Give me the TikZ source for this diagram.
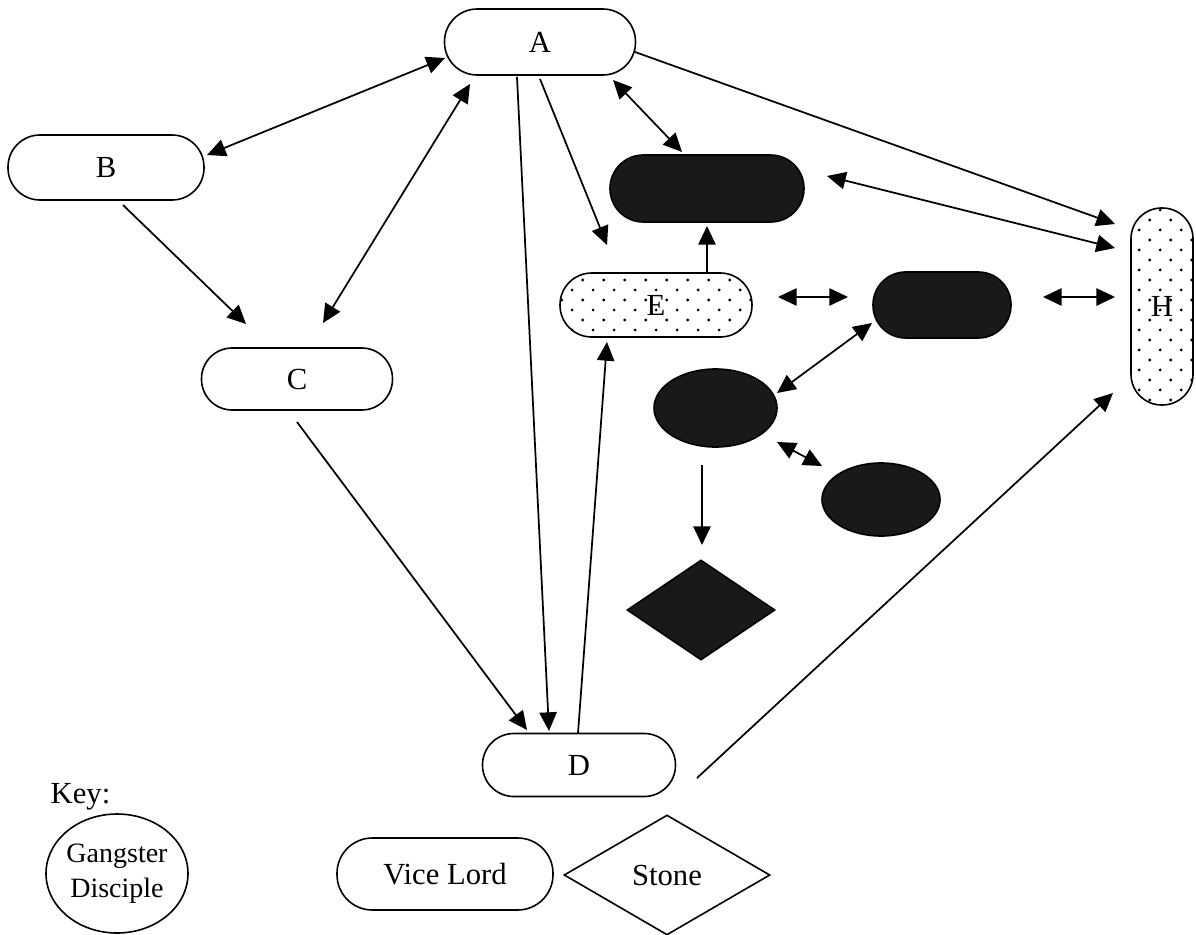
\documentclass[tikz,border=0pt]{standalone}
\usepackage{fontspec}
\setmainfont{Liberation Serif}
\usetikzlibrary{arrows.meta,shapes.geometric,patterns,calc}
\pgfdeclarepatternformonly{mydots}{\pgfpoint{-1pt}{-1pt}}{\pgfpoint{16.75pt}{16pt}}{\pgfpoint{15.75pt}{15pt}}{%
  \pgfpathcircle{\pgfpoint{3.9pt}{3.75pt}}{1.15pt}%
  \pgfpathcircle{\pgfpoint{11.8pt}{11.25pt}}{1.15pt}%
  \pgfusepath{fill}}
\tikzset{
  lbl/.style={font=\fontsize{23}{26}\selectfont},
  vl/.style={draw, line width=1.2pt, inner sep=0pt, lbl},
  dark/.style={fill=black!90, draw=black},
  dotted fill/.style={pattern=mydots},
  conn/.style={line width=1.3pt, -{Triangle[length=14pt,width=13pt]}},
  biconn/.style={line width=1.3pt, {Triangle[length=14pt,width=13pt]}-{Triangle[length=14pt,width=13pt]}},
}
\begin{document}
\begin{tikzpicture}[x=0.75pt,y=-0.75pt]
\useasboundingbox (0,0) rectangle (1196,935);
% nodes
\node[vl, minimum width=191*0.75pt, minimum height=66*0.75pt, rounded corners=24.5pt] (A) at (540,42) {A};
\node[vl, minimum width=196*0.75pt, minimum height=65*0.75pt, rounded corners=24pt] (B) at (106,167.5) {B};
\node[vl, minimum width=191*0.75pt, minimum height=62*0.75pt, rounded corners=23pt] (C) at (297,379) {C};
\node[vl, minimum width=193*0.75pt, minimum height=63*0.75pt, rounded corners=23.5pt] (D) at (579,765) {D};
\node[vl, dotted fill, minimum width=192*0.75pt, minimum height=64*0.75pt, rounded corners=23.8pt] (E) at (656,305) {E};
\node[vl, dark, minimum width=194*0.75pt, minimum height=67*0.75pt, rounded corners=25pt] (F) at (707,188.5) {};
\node[vl, dark, minimum width=138*0.75pt, minimum height=66*0.75pt, rounded corners=24.5pt] (G) at (942,305) {};
\node[vl, dotted fill, minimum width=62*0.75pt, minimum height=197*0.75pt, rounded corners=23pt] (H) at (1162,306.5) {H};
\node[vl, dark, ellipse, minimum width=123*0.75pt, minimum height=78*0.75pt] (I) at (715.5,408) {};
\node[vl, dark, ellipse, minimum width=118*0.75pt, minimum height=73*0.75pt] (J) at (881,499.5) {};
\node[vl, dark, diamond, minimum width=148*0.75pt, minimum height=100*0.75pt] (K) at (701,610) {};
% key
\node[lbl, anchor=west] (key) at (46,797) {Key:};
\node[vl, ellipse, inner sep=-12pt, minimum width=142*0.75pt, minimum height=119*0.75pt, align=center, font=\fontsize{21}{26}\selectfont] (kgd) at (117,873.5) {Gangster\\Disciple};
\node[vl, minimum width=216*0.75pt, minimum height=72*0.75pt, rounded corners=26.5pt] (kvl) at (445,874) {Vice Lord};
\node[vl, diamond, minimum width=206*0.75pt, minimum height=120*0.75pt] (kst) at (667,875) {Stone};
% connectors
\draw[biconn] ($(B)+(101,-12.5)$) -- ($(A)+(-95,16)$);
\draw[biconn] ($(C)+(26,-56)$) -- ($(A)+(-70,42)$);
\draw[conn] ($(B)+(17,37.5)$) -- ($(C)+(-51,-55)$);
\draw[conn] ($(A)+(-23,35)$) -- ($(D)+(-30,-34)$);
\draw[conn] ($(C)+(0,43)$) -- ($(D)+(-52,-35)$);
\draw[conn] ($(D)+(-1,-32)$) -- ($(E)+(-49,37)$);
\draw[conn] ($(A)+(0,37)$) -- ($(E)+(-49,-60)$);
\draw[biconn] ($(A)+(73,38)$) -- ($(F)+(-25,-36.5)$);
\draw[conn] ($(A)+(95,10)$) -- ($(H)+(-47,-82.5)$);
\draw[biconn] ($(F)+(120,-12.5)$) -- ($(H)+(-47,-58.5)$);
\draw[conn] ($(E)+(51,-32)$) -- ($(F)+(0,37.5)$);
\draw[biconn] ($(E)+(122,-8)$) -- ($(G)+(-94,-8)$);
\draw[biconn] ($(G)+(101,-8)$) -- ($(H)+(-47,-9.5)$);
\draw[biconn] ($(I)+(61.5,-15)$) -- ($(G)+(-70,18)$);
\draw[biconn] ($(I)+(61.5,34)$) -- ($(J)+(-59,-33.5)$);
\draw[conn] ($(I)+(-13.5,57)$) -- ($(K)+(1,-65)$);
\draw[conn] ($(D)+(118,13)$) -- ($(H)+(-49,86.5)$);
\end{tikzpicture}
\end{document}
